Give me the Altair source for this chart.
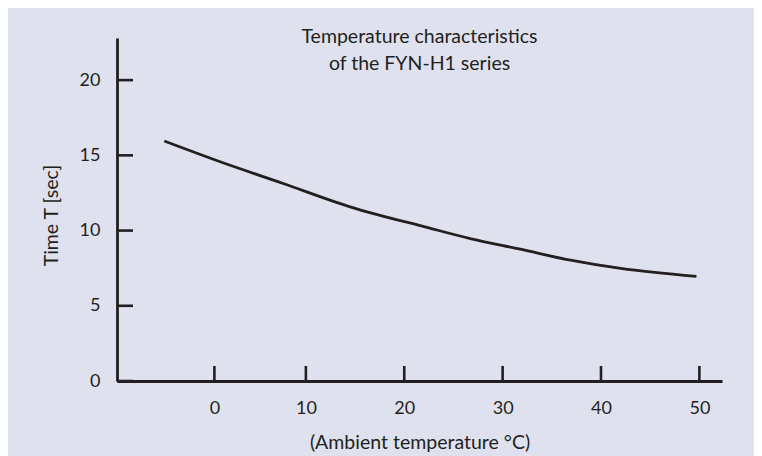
import altair as alt
import pandas as pd

# Curve
temp_c = [-4.4, 1.0, 7.7, 14.5, 22.3, 26.7, 31.8, 36.9, 42.0, 49.7]
time_s = [15.95, 14.64, 13.13, 11.58, 10.21, 9.47, 8.76, 8.03, 7.48, 6.95]

# Axis ticks (the "0" tick sits slightly right in the reference)
x_tick_values = [0.7, 10, 20, 30, 40, 50]
x_tick_labels = ["0", "10", "20", "30", "40", "50"]
y_tick_values = [0, 5, 10, 15, 20]

x_domain = [-9.2, 52.3]
y_domain = [0, 22.8]

INK = "#231f20"
BG = "#dfe2ee"
FONT = "Lato"

curve = pd.DataFrame({"x": temp_c, "y": time_s})
xticks = pd.DataFrame({"x": x_tick_values, "y": [0] * len(x_tick_values)})
yticks = pd.DataFrame({"x": [x_domain[0]] * len(y_tick_values), "y": y_tick_values})

label_expr = "{}[indexof({}, datum.value)]".format(
    "[" + ",".join("'%s'" % s for s in x_tick_labels) + "]",
    "[" + ",".join(str(v) for v in x_tick_values) + "]",
)

X = alt.X(
    "x:Q",
    scale=alt.Scale(domain=x_domain, nice=False, zero=False),
    axis=alt.Axis(
        values=x_tick_values,
        labelExpr=label_expr,
        ticks=False,
        grid=False,
        domainColor=INK,
        domainWidth=2.8,
        labelColor=INK,
        labelFont=FONT,
        labelFontSize=18,
        labelPadding=18,
        title="(Ambient temperature °C)",
        titleFont=FONT,
        titleFontSize=19.5,
        titleFontWeight="normal",
        titleColor=INK,
        titleY=61,
        titleBaseline="middle",
    ),
)
Y = alt.Y(
    "y:Q",
    scale=alt.Scale(domain=y_domain, nice=False, zero=False),
    axis=alt.Axis(
        values=y_tick_values,
        ticks=False,
        grid=False,
        domainColor=INK,
        domainWidth=2.8,
        labelColor=INK,
        labelFont=FONT,
        labelFontSize=18,
        labelPadding=17,
        title="Time T [sec]",
        titleFont=FONT,
        titleFontSize=19.5,
        titleFontWeight="normal",
        titleColor=INK,
        titleAngle=-90,
        titleX=-66,
        titleY=177,
        titleBaseline="middle",
        titleAlign="center",
    ),
)

line = alt.Chart(curve).mark_line(
    color=INK, strokeWidth=2.8, interpolate="monotone"
).encode(x=X, y=Y)

xtick_marks = alt.Chart(xticks).mark_tick(
    orient="vertical", size=15, thickness=2.6, yOffset=-7.5, color=INK, opacity=1
).encode(x=X, y=Y)

ytick_marks = alt.Chart(yticks).mark_tick(
    orient="horizontal", size=16, thickness=2.6, xOffset=8, color=INK, opacity=1
).encode(x=X, y=Y)

chart = (
    alt.layer(line, xtick_marks, ytick_marks)
    .properties(
        width=605,
        height=343,
        autosize="none",
        padding={"left": 109, "top": 30, "right": 32, "bottom": 75},
        background=BG,
        title=alt.TitleParams(
            text=["Temperature characteristics", "of the FYN-H1 series"],
            font=FONT,
            fontSize=19.5,
            fontWeight="normal",
            color=INK,
            anchor="middle",
            frame="group",
            offset=-36,
            lineHeight=27,
        ),
    )
    .configure_view(stroke=None)
)

chart.save("out.html", embed_options={"renderer": "svg", "actions": False})
